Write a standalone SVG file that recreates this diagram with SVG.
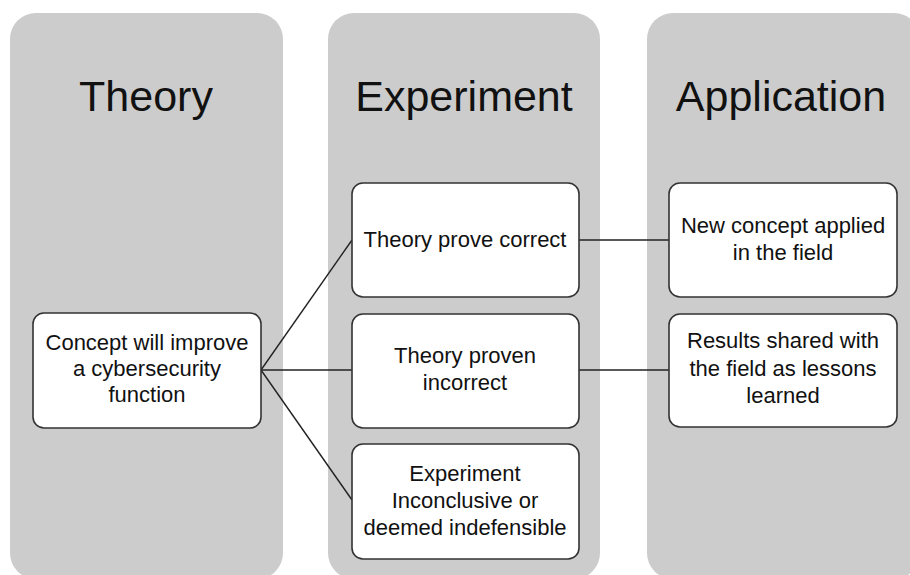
<svg xmlns="http://www.w3.org/2000/svg" width="910" height="575" viewBox="0 0 910 575">
<style>
.panel{fill:#cccccc;}
.title{font-family:"Liberation Sans",Arial,sans-serif;font-size:43px;fill:#111;text-anchor:middle;}
.box{fill:#ffffff;stroke:#333333;stroke-width:1.6;}
.lbl{font-family:"Liberation Sans",Arial,sans-serif;font-size:22px;fill:#111;text-anchor:middle;}
.conn{stroke:#222222;stroke-width:1.4;fill:none;}
</style>
<rect width="910" height="575" fill="#ffffff"/>
<g id="panel-theory">
<rect class="panel" x="10" y="13" width="273" height="566" rx="26"/>
<text class="title" x="146" y="111">Theory</text>
</g>
<g id="panel-experiment">
<rect class="panel" x="328" y="13" width="272" height="566" rx="26"/>
<text class="title" x="464" y="111">Experiment</text>
</g>
<g id="panel-application">
<rect class="panel" x="647" y="13" width="273" height="566" rx="26"/>
<text class="title" x="781" y="111">Application</text>
</g>
<g id="connectors">
<line class="conn" x1="261" y1="370" x2="352" y2="240"/>
<line class="conn" x1="261" y1="370" x2="352" y2="370"/>
<line class="conn" x1="261" y1="370" x2="352" y2="500"/>
<line class="conn" x1="579" y1="240" x2="669" y2="240"/>
<line class="conn" x1="579" y1="370" x2="669" y2="370"/>
</g>
<g id="concept">
<rect class="box" x="33" y="313" width="228" height="115" rx="11"/>
<text class="lbl" x="147" y="350">Concept will improve</text>
<text class="lbl" x="147" y="376">a cybersecurity</text>
<text class="lbl" x="147" y="402">function</text>
</g>
<g id="correct">
<rect class="box" x="352" y="183" width="227" height="114" rx="11"/>
<text class="lbl" x="465" y="247">Theory prove correct</text>
</g>
<g id="incorrect">
<rect class="box" x="352" y="314" width="227" height="114" rx="11"/>
<text class="lbl" x="465" y="363">Theory proven</text>
<text class="lbl" x="465" y="390">incorrect</text>
</g>
<g id="inconclusive">
<rect class="box" x="352" y="444" width="227" height="115" rx="11"/>
<text class="lbl" x="465" y="481">Experiment</text>
<text class="lbl" x="465" y="508">Inconclusive or</text>
<text class="lbl" x="465" y="535">deemed indefensible</text>
</g>
<g id="applied">
<rect class="box" x="669" y="183" width="228" height="114" rx="11"/>
<text class="lbl" x="783" y="233">New concept applied</text>
<text class="lbl" x="783" y="260">in the field</text>
</g>
<g id="shared">
<rect class="box" x="669" y="314" width="228" height="113" rx="11"/>
<text class="lbl" x="783" y="348">Results shared with</text>
<text class="lbl" x="783" y="376">the field as lessons</text>
<text class="lbl" x="783" y="403">learned</text>
</g>
</svg>
